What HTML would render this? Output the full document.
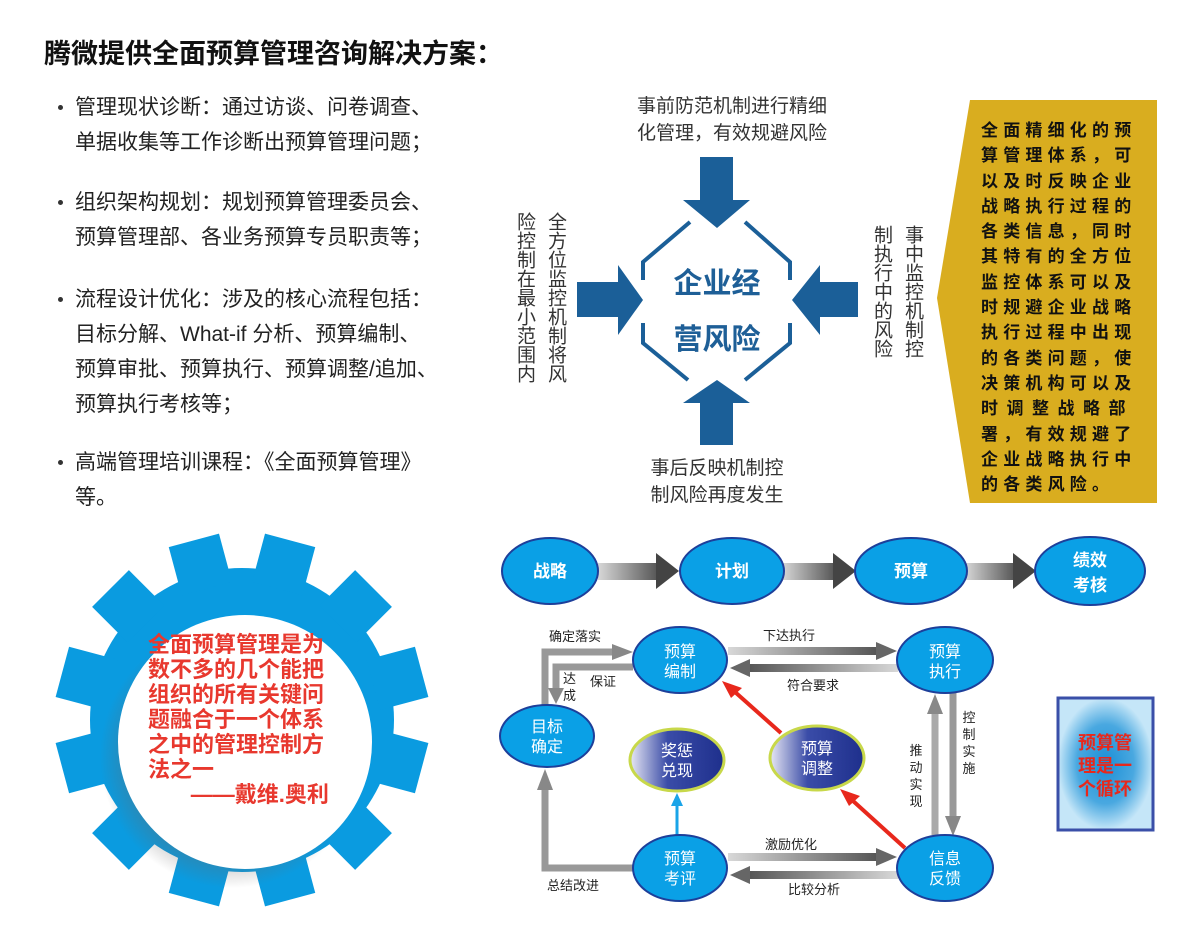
<!DOCTYPE html>
<html><head><meta charset="utf-8">
<style>
body{margin:0;background:#fff;}
#c{position:relative;width:1200px;height:942px;overflow:hidden;font-family:"Liberation Sans","Noto Sans CJK SC",sans-serif;}
.a{position:absolute;white-space:nowrap;}
.b{font-size:21px;color:#222;line-height:35px;left:75px;}
.dot{position:absolute;left:58px;width:5px;height:5px;border-radius:50%;background:#333;}
.v{position:absolute;writing-mode:vertical-rl;font-size:19px;color:#333;line-height:31px;letter-spacing:0px;}
</style></head><body><div id="c">
<svg width="1200" height="942" style="position:absolute;left:0;top:0">
<defs>
<linearGradient id="g" x1="0" x2="1" y1="0" y2="0"><stop offset="0" stop-color="#d8d8d8"/><stop offset="1" stop-color="#555"/></linearGradient>
<linearGradient id="gl" x1="1" x2="0" y1="0" y2="0"><stop offset="0" stop-color="#d8d8d8"/><stop offset="1" stop-color="#555"/></linearGradient>
<linearGradient id="nv" x1="0" x2="1"><stop offset="0" stop-color="#e8e8f4"/><stop offset="0.4" stop-color="#3a4ca8"/><stop offset="1" stop-color="#1e2f8c"/></linearGradient>
<radialGradient id="bx"><stop offset="0" stop-color="#1c8fd6"/><stop offset="0.6" stop-color="#49a8e0"/><stop offset="1" stop-color="#c5e6f8"/></radialGradient>
<radialGradient id="sh"><stop offset="0.7" stop-color="#666" stop-opacity="0.5"/><stop offset="1" stop-color="#666" stop-opacity="0"/></radialGradient>
</defs>
<g fill="#0a9be0" transform="translate(242,720)">
<circle r="152"/>
<rect x="-26" y="-186" width="52" height="50" transform="rotate(15)"/>
<rect x="-26" y="-186" width="52" height="50" transform="rotate(45)"/>
<rect x="-26" y="-186" width="52" height="50" transform="rotate(75)"/>
<rect x="-26" y="-186" width="52" height="50" transform="rotate(105)"/>
<rect x="-26" y="-186" width="52" height="50" transform="rotate(135)"/>
<rect x="-26" y="-186" width="52" height="50" transform="rotate(165)"/>
<rect x="-26" y="-186" width="52" height="50" transform="rotate(195)"/>
<rect x="-26" y="-186" width="52" height="50" transform="rotate(225)"/>
<rect x="-26" y="-186" width="52" height="50" transform="rotate(255)"/>
<rect x="-26" y="-186" width="52" height="50" transform="rotate(285)"/>
<rect x="-26" y="-186" width="52" height="50" transform="rotate(315)"/>
<rect x="-26" y="-186" width="52" height="50" transform="rotate(345)"/>
</g>
<circle cx="232" cy="756" r="132" fill="url(#sh)"/>
<circle cx="245" cy="742" r="127" fill="#fff"/>
<g fill="#1b5f98">
<polygon points="700,157 733,157 733,200 750,200 717,228 683,200 700,200"/>
<polygon points="700,445 733,445 733,403 750,403 717,380 683,403 700,403"/>
<polygon points="577,282 618,282 618,265 643,300 618,335 618,317 577,317"/>
<polygon points="858,282 820,282 820,265 792,300 820,335 820,317 858,317"/>
</g>
<g fill="none" stroke="#1b5f98" stroke-width="4">
<path d="M643,280 L643,262 L690,222"/><path d="M745,222 L790,262 L790,280"/>
<path d="M643,323 L643,343 L688,380"/><path d="M745,380 L790,343 L790,323"/>
</g>
<text x="717" y="293" font-size="29" font-weight="bold" fill="#1e5f97" text-anchor="middle" style="font-family:'Noto Sans CJK SC',sans-serif">企业经</text>
<text x="717" y="349" font-size="29" font-weight="bold" fill="#1e5f97" text-anchor="middle" style="font-family:'Noto Sans CJK SC',sans-serif">营风险</text>
<polygon points="970,100 1157,100 1157,503 970,503 937,298" fill="#d9ad1f"/>
<g>
<rect x="598" y="563" width="60" height="17" fill="url(#g)"/><polygon points="656,553 679,571 656,589" fill="#444"/>
<rect x="782" y="563" width="53" height="17" fill="url(#g)"/><polygon points="833,553 856,571 833,589" fill="#444"/>
<rect x="965" y="563" width="50" height="17" fill="url(#g)"/><polygon points="1013,553 1036,571 1013,589" fill="#444"/>
</g>
<g fill="#0aa0e6" stroke="#1d3f9a" stroke-width="2">
<ellipse cx="550" cy="571" rx="48" ry="33"/><ellipse cx="732" cy="571" rx="52" ry="33"/>
<ellipse cx="911" cy="571" rx="56" ry="33"/><ellipse cx="1090" cy="571" rx="55" ry="34"/>
</g>
<g fill="none" stroke-width="7">
<polyline points="545,705 545,652 615,652" stroke="#999"/>
<polyline points="633,667 556,667 556,690" stroke="#999"/>
<polyline points="633,868 545,868 545,788" stroke="#999"/>
<line x1="935" y1="835" x2="935" y2="712" stroke="#aaa"/>
<line x1="953" y1="693" x2="953" y2="818" stroke="#999"/>
<line x1="781" y1="733" x2="735" y2="692" stroke="#e8281c" stroke-width="4"/>
<line x1="905" y1="848" x2="852" y2="800" stroke="#e8281c" stroke-width="4"/>
<line x1="677" y1="835" x2="677" y2="805" stroke="#1aa4e8" stroke-width="3"/>
</g>
<rect x="728" y="647" width="150" height="8" fill="url(#g)"/>
<rect x="748" y="664" width="150" height="8" fill="url(#gl)"/>
<rect x="728" y="853" width="150" height="8" fill="url(#g)"/>
<rect x="748" y="871" width="150" height="8" fill="url(#gl)"/>
<g fill="#888">
<polygon points="612,644 633,652 612,660"/>
<polygon points="548,688 564,688 556,704"/>
<polygon points="876,642 897,651 876,660" fill="#666"/>
<polygon points="750,659 730,668 750,677" fill="#666"/>
<polygon points="537,790 553,790 545,769"/>
<polygon points="876,848 897,857 876,866" fill="#666"/>
<polygon points="750,866 730,875 750,884" fill="#666"/>
<polygon points="927,714 943,714 935,694"/>
<polygon points="945,816 961,816 953,836"/>
</g>
<polygon points="722,681 742,688 731,698" fill="#e8281c"/>
<polygon points="840,789 860,796 849,806" fill="#e8281c"/>
<polygon points="671,806 683,806 677,793" fill="#1aa4e8"/>
<g fill="#0aa0e6" stroke="#1d3f9a" stroke-width="2">
<ellipse cx="680" cy="660" rx="47" ry="33"/><ellipse cx="945" cy="660" rx="48" ry="33"/>
<ellipse cx="547" cy="736" rx="47" ry="31"/><ellipse cx="680" cy="868" rx="47" ry="33"/>
<ellipse cx="945" cy="868" rx="48" ry="33"/>
</g>
<g fill="url(#nv)" stroke="#c8d84a" stroke-width="3">
<ellipse cx="677" cy="760" rx="47" ry="31"/><ellipse cx="817" cy="758" rx="47" ry="32"/>
</g>
<g font-size="17" fill="#fff" text-anchor="middle" font-weight="bold">
<text x="550" y="577">战略</text><text x="732" y="577">计划</text><text x="911" y="577">预算</text>
<text x="1090" y="566">绩效</text><text x="1090" y="591">考核</text>
</g>
<g font-size="16" fill="#fff" text-anchor="middle">
<text x="680" y="657">预算</text><text x="680" y="677">编制</text>
<text x="945" y="657">预算</text><text x="945" y="677">执行</text>
<text x="547" y="732">目标</text><text x="547" y="752">确定</text>
<text x="677" y="756">奖惩</text><text x="677" y="776">兑现</text>
<text x="817" y="754">预算</text><text x="817" y="774">调整</text>
<text x="680" y="864">预算</text><text x="680" y="884">考评</text>
<text x="945" y="864">信息</text><text x="945" y="884">反馈</text>
</g>
<g font-size="13" fill="#222">
<text x="549" y="641">确定落实</text><text x="763" y="640">下达执行</text><text x="787" y="690">符合要求</text>
<text x="563" y="683">达</text><text x="563" y="700">成</text><text x="590" y="686">保证</text>
<text x="547" y="890">总结改进</text><text x="765" y="849">激励优化</text><text x="788" y="894">比较分析</text>
</g>
<g font-size="13" fill="#222" text-anchor="middle">
<text x="916" y="755">推</text><text x="916" y="772">动</text><text x="916" y="789">实</text><text x="916" y="806">现</text>
<text x="969" y="722">控</text><text x="969" y="739">制</text><text x="969" y="756">实</text><text x="969" y="773">施</text>
</g>
<rect x="1058" y="698" width="95" height="132" fill="url(#bx)" stroke="#3a4fa8" stroke-width="3"/>
<g font-size="18" font-weight="bold" fill="#e8281c" text-anchor="middle">
<text x="1105" y="749">预算管</text><text x="1105" y="772">理是一</text><text x="1105" y="795">个循环</text>
</g>
</svg>

<div class="a" style="left:44px;top:32px;font-size:27px;font-weight:bold;color:#111">腾微提供全面预算管理咨询解决方案：</div>

<div class="dot" style="top:105px"></div>
<div class="a b" style="top:90px">管理现状诊断：通过访谈、问卷调查、<br>单据收集等工作诊断出预算管理问题；</div>
<div class="dot" style="top:200px"></div>
<div class="a b" style="top:185px">组织架构规划：规划预算管理委员会、<br>预算管理部、各业务预算专员职责等；</div>
<div class="dot" style="top:297px"></div>
<div class="a b" style="top:282px">流程设计优化：涉及的核心流程包括：<br>目标分解、What-if 分析、预算编制、<br>预算审批、预算执行、预算调整/追加、<br>预算执行考核等；</div>
<div class="dot" style="top:460px"></div>
<div class="a b" style="top:445px">高端管理培训课程：《全面预算管理》<br>等。</div>

<div class="a" style="left:632px;top:93px;font-size:19px;color:#333;line-height:27px;text-align:center;width:200px">事前防范机制进行精细<br>化管理，有效规避风险</div>
<div class="a" style="left:617px;top:455px;font-size:19px;color:#333;line-height:27px;text-align:center;width:200px">事后反映机制控<br>制风险再度发生</div>
<div class="v" style="left:509px;top:212px">全方位监控机制将风<br>险控制在最小范围内</div>
<div class="v" style="left:866px;top:225px">事中监控机制控<br>制执行中的风险</div>

<div class="a" style="left:981px;top:118px;font-size:17px;font-weight:bold;color:#111;line-height:25.3px;letter-spacing:5.2px">全面精细化的预<br>算管理体系，可<br>以及时反映企业<br>战略执行过程的<br>各类信息，同时<br>其特有的全方位<br>监控体系可以及<br>时规避企业战略<br>执行过程中出现<br>的各类问题，使<br>决策机构可以及<br><span style="letter-spacing:8.5px">时调整战略部</span><br>署，有效规避了<br>企业战略执行中<br>的各类风险。</div>

<div class="a" style="left:148px;top:632px;font-size:22px;font-weight:bold;color:#e8382e;line-height:25px">全面预算管理是为<br>数不多的几个能把<br>组织的所有关键问<br>题融合于一个体系<br>之中的管理控制方<br>法之一<br>&nbsp;&nbsp;&nbsp;&nbsp;&nbsp;&nbsp;&nbsp;——戴维.奥利</div>
</div></body></html>
